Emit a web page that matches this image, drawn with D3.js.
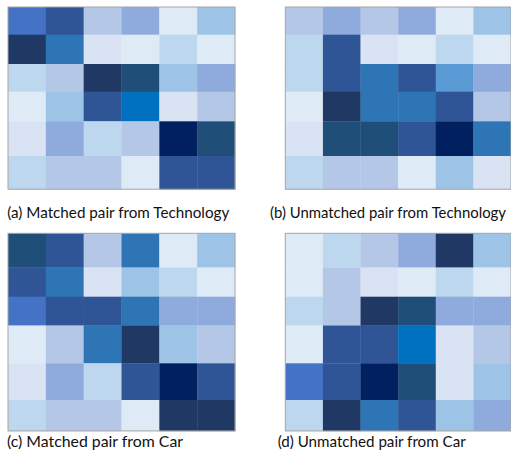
<!DOCTYPE html>
<html>
<head>
<meta charset="utf-8">
<script src="https://cdn.jsdelivr.net/npm/d3@7"></script>
<style>
  html, body { margin: 0; padding: 0; background: #ffffff; }
  svg { display: block; }
  text { font-family: Lato, "Open Sans", sans-serif; fill: #111; }
</style>
</head>
<body>
<svg id="chart" width="511" height="457"></svg>
<script>
// ---- DATA ----
// Intensity levels 0 (lightest) .. 13 (darkest)
const levels = d3.range(14);
const levelColors = ["#DEEBF7", "#DAE3F3", "#BDD7EE", "#B4C7E7", "#9DC3E6", "#8FAADC", "#5B9BD5",
                     "#4472C4", "#2E75B6", "#0070C0", "#2F5597", "#1F4E79", "#203864", "#002060"];

const panelTitles = [
  "(a) Matched pair from Technology",
  "(b) Unmatched pair from Technology",
  "(c) Matched pair from Car",
  "(d) Unmatched pair from Car"
];

const gridA = [
  [7, 10, 3, 5, 0, 4],
  [12, 8, 1, 0, 2, 0],
  [2, 3, 12, 11, 4, 5],
  [0, 4, 10, 9, 1, 3],
  [1, 5, 2, 3, 13, 11],
  [2, 3, 3, 0, 10, 10]
];
const gridB = [
  [3, 5, 3, 5, 0, 4],
  [2, 10, 1, 0, 2, 0],
  [2, 10, 8, 10, 6, 5],
  [0, 12, 8, 8, 10, 3],
  [1, 11, 11, 10, 13, 8],
  [2, 3, 3, 0, 4, 1]
];
const gridC = [
  [11, 10, 3, 8, 0, 4],
  [10, 8, 1, 4, 2, 0],
  [7, 10, 10, 8, 5, 5],
  [0, 3, 8, 12, 4, 3],
  [1, 5, 2, 10, 13, 10],
  [2, 3, 3, 0, 12, 12]
];
const gridD = [
  [0, 2, 3, 5, 12, 4],
  [0, 3, 1, 0, 2, 0],
  [2, 3, 12, 11, 5, 5],
  [0, 10, 10, 9, 1, 3],
  [7, 10, 13, 11, 1, 4],
  [2, 12, 8, 10, 4, 5]
];
const grids = [gridA, gridB, gridC, gridD];

// ---- LAYOUT ----
const colEdges = [[8, 235], [285.3, 511]];
const rowEdgesTop = [7, 34.7, 64, 91.7, 121.3, 156, 189.2];
const rowEdgesBottom = [233.3, 267.5, 296.7, 325.5, 363.3, 400, 430.9];
const labelPos = [
  { x: 7.3, y: 218, w: 222 },
  { x: 270, y: 218, w: 236 },
  { x: 7, y: 446.5, w: 176 },
  { x: 277.7, y: 446.5, w: 188 }
];

const color = d3.scaleOrdinal().domain(levels).range(levelColors);
const svg = d3.select("#chart");

grids.forEach((grid, p) => {
  const nCols = grid[0].length, nRows = grid.length;
  const x = d3.scaleBand().domain(d3.range(nCols)).range(colEdges[p % 2]).padding(0);
  const y = d3.scaleLinear().domain(d3.range(nRows + 1))
    .range(p < 2 ? rowEdgesTop : rowEdgesBottom);

  const g = svg.append("g");
  const cells = grid.flatMap((row, r) => row.map((v, c) => ({ r, c, v })));
  g.selectAll("rect.cell").data(cells).join("rect")
    .attr("class", "cell")
    .attr("x", d => x(d.c))
    .attr("y", d => y(d.r))
    .attr("width", x.bandwidth() + 0.3)
    .attr("height", d => y(d.r + 1) - y(d.r) + 0.3)
    .attr("fill", d => color(d.v));

  g.append("rect")
    .attr("x", x.range()[0])
    .attr("y", y(0))
    .attr("width", x.range()[1] - x.range()[0])
    .attr("height", y(nRows) - y(0))
    .attr("fill", "none")
    .attr("stroke", "#A6A6A6")
    .attr("stroke-width", 1);

  const lp = labelPos[p];
  svg.append("text")
    .attr("x", lp.x)
    .attr("y", lp.y)
    .attr("font-size", 15)
    .attr("textLength", lp.w)
    .attr("lengthAdjust", "spacingAndGlyphs")
    .text(panelTitles[p]);
});
</script>
</body>
</html>
